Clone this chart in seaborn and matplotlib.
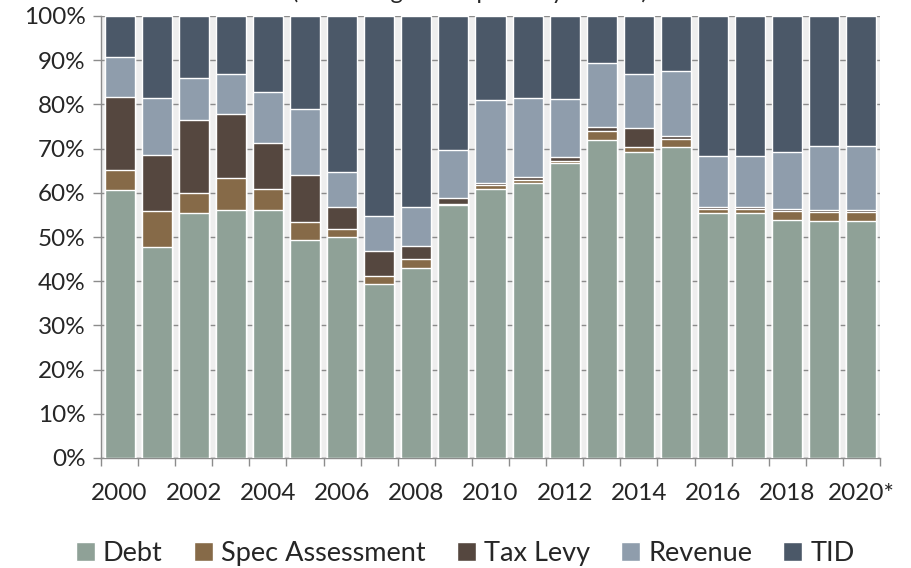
import numpy as np
import matplotlib
matplotlib.use("Agg")
import matplotlib.pyplot as plt
import seaborn as sns
from matplotlib.ticker import FixedLocator, FuncFormatter

# data (share of total, %)
years = ["2000", "2001", "2002", "2003", "2004", "2005", "2006", "2007", "2008", "2009", "2010",
         "2011", "2012", "2013", "2014", "2015", "2016", "2017", "2018", "2019", "2020*"]
debt = [60.6, 47.7, 55.4, 56.0, 56.1, 49.4, 50.1, 39.4, 42.9, 57.2, 60.9,
        62.2, 66.7, 71.9, 69.2, 70.3, 55.4, 55.4, 53.8, 53.6, 53.6]
spec_assessment = [4.6, 8.2, 4.6, 7.4, 4.7, 4.0, 1.7, 1.7, 2.1, 0.2, 0.8,
                   0.6, 0.5, 2.1, 1.2, 1.9, 0.9, 0.9, 2.1, 2.1, 2.1]
tax_levy = [16.4, 12.6, 16.5, 14.5, 10.4, 10.6, 5.1, 5.8, 3.0, 1.4, 0.6,
            0.7, 0.8, 0.9, 4.3, 0.7, 0.5, 0.5, 0.4, 0.4, 0.4]
revenue = [9.1, 12.9, 9.4, 9.0, 11.5, 14.9, 7.9, 7.9, 8.7, 10.8, 18.6,
           17.9, 13.2, 14.5, 12.2, 14.7, 11.5, 11.5, 12.9, 14.4, 14.4]
tid = [9.3, 18.6, 14.1, 13.1, 17.3, 21.1, 35.2, 45.2, 43.3, 30.4, 19.1,
       18.6, 18.8, 10.6, 13.1, 12.4, 31.7, 31.7, 30.8, 29.5, 29.5]

series = ["Debt", "Spec Assessment", "Tax Levy", "Revenue", "TID"]
values = [debt, spec_assessment, tax_levy, revenue, tid]
colors = ["#8fa197", "#866a48", "#55473f", "#8f9dac", "#4b5868"]

sns.set_style("white")
plt.rcParams['font.family'] = ['Lato', 'DejaVu Sans']

fig = plt.figure(figsize=(9.12, 5.68), dpi=100)
ax = fig.add_axes([101 / 912, 1 - 458 / 568, 779 / 912, 442 / 568])
ax.set_facecolor("#eeeeee")

# stacked bars: draw cumulative totals from the top layer down
cum = np.cumsum(np.array(values), axis=0)
for i in range(len(series) - 1, -1, -1):
    sns.barplot(x=years, y=cum[i], color=colors[i], width=0.81, ax=ax,
                saturation=1, label=series[i], zorder=3)

ax.set_xlim(-0.5, len(years) - 0.5)
ax.set_ylim(0, 100)
ax.set_xlabel("")
ax.set_ylabel("")

# y axis
ax.yaxis.set_major_locator(FixedLocator(np.arange(0, 101, 10)))
ax.yaxis.set_major_formatter(FuncFormatter(lambda v, p: f"{v:.0f}%"))
ax.grid(axis="y", color="#8c8c8c", linewidth=1, zorder=0)
ax.tick_params(axis="y", which="major", left=True, length=6, width=1,
               color="#8c8c8c", labelsize=17.5, pad=5)

# x axis: labels every other year, tick marks between bars
ax.set_xticks(range(0, len(years), 2))
ax.set_xticklabels(years[::2])
ax.set_xticks(np.arange(-0.5, len(years), 1), minor=True)
ax.tick_params(axis="x", which="major", length=0, labelsize=17.5, pad=18)
ax.tick_params(axis="x", which="minor", bottom=True, length=6, width=1, color="#8c8c8c")

for s in ["top", "right"]:
    ax.spines[s].set_visible(False)
for s in ["left", "bottom"]:
    ax.spines[s].set_color("#8c8c8c")
    ax.spines[s].set_linewidth(1)
ax.set_axisbelow(True)

# title is cropped at the top edge of the image (only descenders show)
fig.text(0.515, 1 + 1 / 568, "(Percentage of Capture by Source)", ha="center",
         va="baseline", fontsize=17)

# legend
handles, labels = ax.get_legend_handles_labels()
order = [labels.index(s) for s in series]
ax.legend([handles[i] for i in order], series, loc="center",
          bbox_to_anchor=(0.51, 0.026), bbox_transform=fig.transFigure,
          ncol=5, frameon=False, fontsize=19.5, handlelength=0.7, handleheight=0.7,
          handletextpad=0.3, columnspacing=1.15)

fig.savefig("out.png", dpi=100)
